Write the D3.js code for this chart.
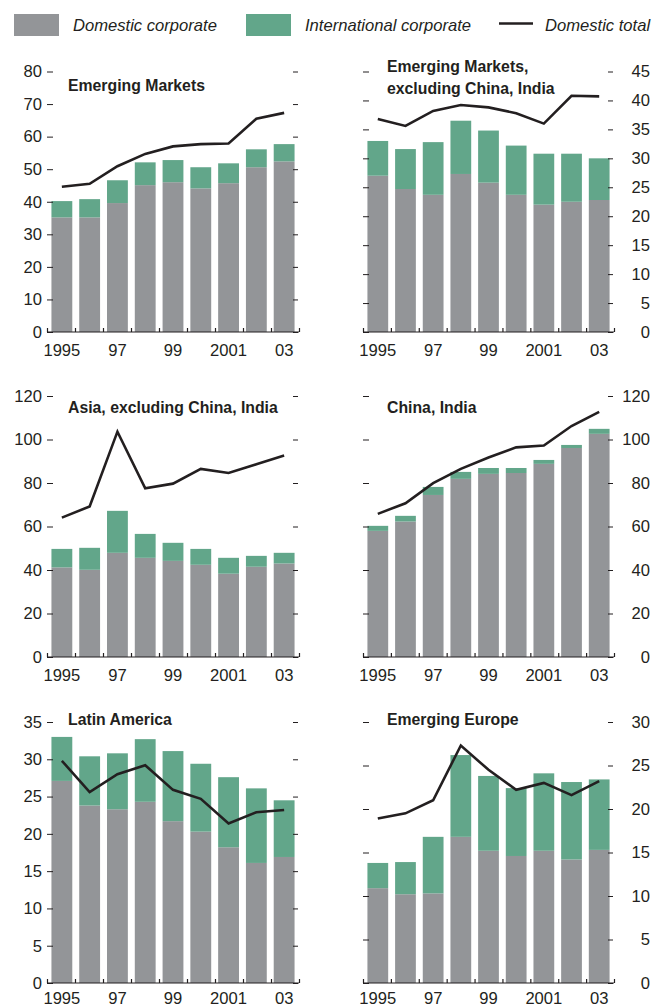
<!DOCTYPE html>
<html>
<head>
<meta charset="utf-8">
<script src="https://cdn.jsdelivr.net/npm/d3@7"></script>
<style>
  html, body { margin: 0; padding: 0; background: #fff; }
  svg { display: block; }
  text { fill: #231f20; font-family: "Liberation Sans", Arial, sans-serif; }
  .tick text { font-size: 16.6px; }
  .title { font-size: 15.8px; font-weight: bold; }
  .legend text { font-size: 16.6px; font-style: italic; }
</style>
</head>
<body>
<svg id="chart" width="653" height="1007"></svg>
<script>
// ---------- DATA ----------
const years = ["1995","1996","1997","1998","1999","2000","2001","2002","2003"];
const yearLabels = ["1995","","97","","99","","2001","","03"];
const seriesNames = ["Domestic corporate","International corporate","Domestic total"];

// Emerging Markets
const emDomestic = [35.2,35.2,39.6,45.1,46.0,44.1,45.7,50.6,52.4];
const emInternational = [5.0,5.6,7.0,7.0,6.8,6.5,6.1,5.5,5.3];
const emTotal = [44.6,45.5,50.9,54.7,57.0,57.7,57.9,65.5,67.3];
const emTicks = [0,10,20,30,40,50,60,70,80];

// Emerging Markets, excluding China, India
const emxDomestic = [27.0,24.7,23.7,27.3,25.8,23.7,22.0,22.5,22.8];
const emxInternational = [6.0,6.9,9.1,9.2,9.0,8.5,8.8,8.3,7.2];
const emxTotal = [36.8,35.6,38.2,39.2,38.8,37.8,36.0,40.8,40.7];
const emxTicks = [0,5,10,15,20,25,30,35,40,45];

// Asia, excluding China, India
const asiaDomestic = [41.2,40.1,47.9,45.6,44.2,42.4,38.3,41.5,43.0];
const asiaInternational = [8.5,10.1,19.3,11.0,8.3,7.3,7.3,5.0,4.9];
const asiaTotal = [64.1,69.2,103.6,77.6,79.7,86.5,84.6,88.6,92.6];
const asiaTicks = [0,20,40,60,80,100,120];

// China, India
const ciDomestic = [58.0,62.3,74.5,81.9,84.2,84.6,88.8,96.1,102.6];
const ciInternational = [2.3,2.6,3.7,3.2,2.7,2.3,1.8,1.4,2.3];
const ciTotal = [65.8,70.7,79.9,86.5,91.7,96.4,97.2,106.2,112.7];
const ciTicks = [0,20,40,60,80,100,120];

// Latin America
const laDomestic = [27.1,23.8,23.3,24.3,21.7,20.3,18.2,16.1,16.9];
const laInternational = [5.9,6.6,7.5,8.4,9.4,9.1,9.4,10.0,7.6];
const laTotal = [29.8,25.6,28.0,29.2,25.9,24.7,21.4,22.9,23.2];
const laTicks = [0,5,10,15,20,25,30,35];

// Emerging Europe
const eeDomestic = [10.9,10.2,10.3,16.8,15.2,14.6,15.2,14.2,15.3];
const eeInternational = [2.9,3.7,6.5,9.4,8.6,7.8,8.9,8.9,8.1];
const eeTotal = [18.9,19.5,21.0,27.3,24.5,22.2,23.0,21.6,23.2];
const eeTicks = [0,5,10,15,20,25,30];

// ---------- STYLE / LAYOUT ----------
const GRAY = "#939598", GREEN = "#62a68a", INK = "#231f20";
const colLeft = {x0: 47, x1: 299, side: "left"};
const colRight = {x0: 363, x1: 614, side: "right"};
const rows = [{top: 71.5, bottom: 332, lab: 24}, {top: 396, bottom: 657, lab: 24}, {top: 722, bottom: 983, lab: 21}];

const panels = [
  {title: ["Emerging Markets"], dom: emDomestic, intl: emInternational, tot: emTotal, ticks: emTicks, col: colLeft, row: rows[0], tx: 68, ty: 91},
  {title: ["Emerging Markets,", "excluding China, India"], dom: emxDomestic, intl: emxInternational, tot: emxTotal, ticks: emxTicks, col: colRight, row: rows[0], tx: 387, ty: 72},
  {title: ["Asia, excluding China, India"], dom: asiaDomestic, intl: asiaInternational, tot: asiaTotal, ticks: asiaTicks, col: colLeft, row: rows[1], tx: 68, ty: 413},
  {title: ["China, India"], dom: ciDomestic, intl: ciInternational, tot: ciTotal, ticks: ciTicks, col: colRight, row: rows[1], tx: 387, ty: 413},
  {title: ["Latin America"], dom: laDomestic, intl: laInternational, tot: laTotal, ticks: laTicks, col: colLeft, row: rows[2], tx: 68, ty: 725},
  {title: ["Emerging Europe"], dom: eeDomestic, intl: eeInternational, tot: eeTotal, ticks: eeTicks, col: colRight, row: rows[2], tx: 387, ty: 725},
];

const svg = d3.select("#chart");

// ---------- LEGEND ----------
const leg = svg.append("g").attr("class", "legend");
leg.append("rect").attr("x", 14).attr("y", 14).attr("width", 45).attr("height", 22).attr("fill", GRAY);
leg.append("text").attr("x", 73).attr("y", 31).text(seriesNames[0]);
leg.append("rect").attr("x", 246).attr("y", 14).attr("width", 45).attr("height", 22).attr("fill", GREEN);
leg.append("text").attr("x", 305).attr("y", 31).text(seriesNames[1]);
leg.append("line").attr("x1", 499).attr("x2", 533).attr("y1", 23.5).attr("y2", 23.5).attr("stroke", INK).attr("stroke-width", 2.5);
leg.append("text").attr("x", 545).attr("y", 31).text(seriesNames[2]);

// ---------- PANELS ----------
panels.forEach(p => {
  const g = svg.append("g");
  const {x0, x1, side} = p.col;
  const {top, bottom, lab} = p.row;
  const maxV = p.ticks[p.ticks.length - 1];

  const x = d3.scaleBand().domain(years).range([x0, x1]).paddingInner(0.25).paddingOuter(0.16);
  const y = d3.scaleLinear().domain([0, maxV]).range([bottom, top]);
  const xEdge = d3.scaleLinear().domain([0, years.length]).range([x0, x1]);

  const rowsData = years.map((yr, i) => ({year: yr, dom: p.dom[i], intl: p.intl[i], tot: p.tot[i]}));

  // Domestic corporate bars
  g.append("g").selectAll("rect").data(rowsData).join("rect")
    .attr("x", d => x(d.year)).attr("width", x.bandwidth())
    .attr("y", d => y(d.dom)).attr("height", d => y(0) - y(d.dom))
    .attr("fill", GRAY);
  // International corporate bars (stacked)
  g.append("g").selectAll("rect").data(rowsData).join("rect")
    .attr("x", d => x(d.year)).attr("width", x.bandwidth())
    .attr("y", d => y(d.dom + d.intl)).attr("height", d => y(d.dom) - y(d.dom + d.intl))
    .attr("fill", GREEN);

  // Y axes (inward ticks both sides)
  const leftAxis = d3.axisLeft(y).tickValues(p.ticks).tickSize(-6).tickPadding(5)
    .tickFormat(side === "left" ? d3.format("d") : () => "");
  const rightAxis = d3.axisRight(y).tickValues(p.ticks).tickSize(-6).tickPadding(0)
    .tickFormat(side === "right" ? d3.format("d") : () => "");
  const la = g.append("g").attr("transform", `translate(${x0},0)`).call(leftAxis);
  const ra = g.append("g").attr("transform", `translate(${x1},0)`).call(rightAxis);
  [la, ra].forEach(a => {
    a.select(".domain").remove();
    a.selectAll(".tick line").attr("stroke", INK).attr("stroke-width", 1);
  });
  ra.selectAll(".tick text").attr("text-anchor", "end").attr("x", 650 - x1);
  la.selectAll(".tick text").attr("x", -(x0 - 42));
  la.selectAll(".tick line").attr("x1", 0);
  ra.selectAll(".tick line").attr("x1", -1);

  // X axis: baseline with ticks at band boundaries
  const xa = g.append("g").attr("transform", `translate(0,${bottom})`)
    .call(d3.axisBottom(xEdge).tickValues(d3.range(years.length + 1)).tickSize(-4).tickFormat(() => ""));
  xa.select(".domain").attr("stroke", INK).attr("stroke-width", 1.2).attr("d", `M${x0},0H${x1}`);
  xa.selectAll(".tick line").attr("stroke", INK).attr("stroke-width", 1.2);

  const xl = g.append("g").attr("transform", `translate(0,${bottom})`)
    .call(d3.axisBottom(x).tickSize(0).tickPadding(0).tickFormat((d, i) => yearLabels[i]));
  xl.select(".domain").remove();
  xl.selectAll(".tick text").attr("y", lab).attr("dy", 0);

  // Domestic total line
  const line = d3.line().x(d => x(d.year) + x.bandwidth() / 2).y(d => y(d.tot));
  g.append("path").datum(rowsData).attr("d", line)
    .attr("fill", "none").attr("stroke", INK).attr("stroke-width", 2.6).attr("stroke-linejoin", "miter");

  // Title
  const t = g.append("text").attr("class", "title").attr("x", p.tx).attr("y", p.ty);
  p.title.forEach((s, i) => t.append("tspan").attr("x", p.tx).attr("dy", i === 0 ? 0 : 22).text(s));
});
</script>
</body>
</html>
